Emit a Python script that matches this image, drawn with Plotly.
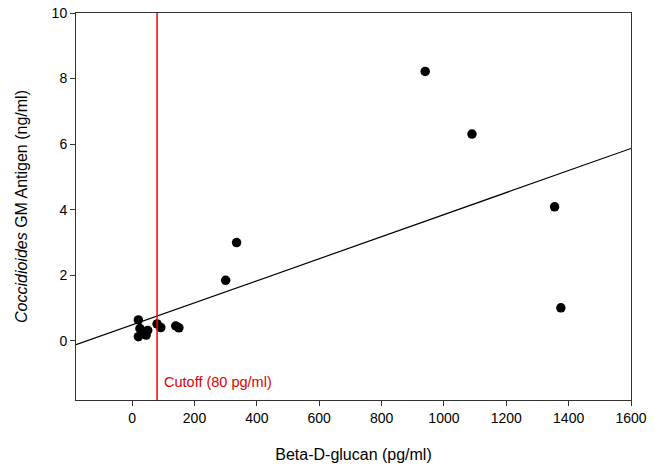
import numpy as np
import plotly.graph_objects as go

bdg = [20, 25, 20, 40, 45, 50, 80, 92, 140, 150, 300, 335, 940, 1090, 1355, 1375]
gm = [0.64, 0.38, 0.13, 0.28, 0.18, 0.32, 0.52, 0.41, 0.46, 0.40, 1.85, 3.0, 8.22, 6.31, 4.09, 1.01]
cutoff = 80
x_range = [-180, 1600]
y_range = [-1.8, 10]
x_ticks = [0, 200, 400, 600, 800, 1000, 1200, 1400, 1600]
y_ticks = [0, 2, 4, 6, 8, 10]

slope, intercept = np.polyfit(bdg, gm, 1)
line_x = np.array(x_range, dtype=float)
line_y = intercept + slope * line_x

fig = go.Figure()
fig.add_trace(go.Scatter(x=line_x, y=line_y, mode="lines",
                         line=dict(color="black", width=1.2), hoverinfo="skip"))
fig.add_trace(go.Scatter(x=bdg, y=gm, mode="markers",
                         marker=dict(color="black", size=9.5)))
fig.add_shape(type="line", x0=cutoff, x1=cutoff, xref="x", yref="paper", y0=0, y1=1,
              line=dict(color="#ff0000", width=1.5))
fig.add_annotation(x=cutoff, y=-1.25, xref="x", yref="y", text="Cutoff (80 pg/ml)",
                   showarrow=False, xanchor="left", xshift=5,
                   font=dict(color="#e00000", size=14.5, family="Liberation Sans, Arial"))

fig.update_layout(
    width=661, height=469, showlegend=False,
    plot_bgcolor="white", paper_bgcolor="white",
    margin=dict(l=76, r=30, t=13, b=69),
    font=dict(family="Liberation Sans, Arial", size=14, color="black"),
    xaxis=dict(range=x_range, tickvals=x_ticks, ticks="outside", ticklen=5, automargin=False,
               tickcolor="#333", showline=True, linecolor="#333", linewidth=1, mirror=True,
               showgrid=False, zeroline=False,
               title=dict(text="Beta-D-glucan (pg/ml)", font=dict(size=16), standoff=24)),
    yaxis=dict(range=y_range, tickvals=y_ticks, ticks="outside", ticklen=5, automargin=False,
               tickcolor="#333", showline=True, linecolor="#333", linewidth=1, mirror=True,
               showgrid=False, zeroline=False,
               title=dict(text="<i>Coccidioides</i> GM Antigen (ng/ml)", font=dict(size=16), standoff=20)),
)
fig.write_html("out.html", config={"displayModeBar": False},
               post_script="document.body.style.margin='0';")
